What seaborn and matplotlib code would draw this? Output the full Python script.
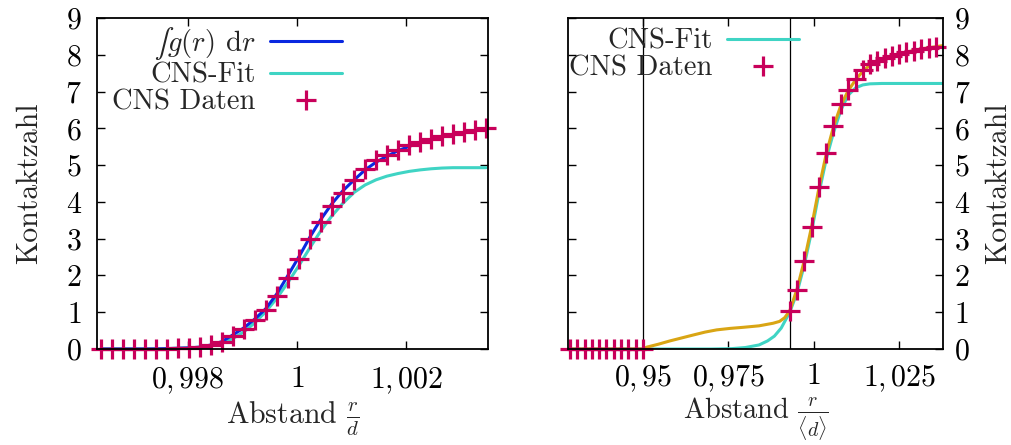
import numpy as np
import pandas as pd
import matplotlib
matplotlib.use("Agg")
import matplotlib.pyplot as plt
from matplotlib.lines import Line2D
import seaborn as sns

# ---------------- data: left panel ----------------
left_x = [0.99640, 0.99660, 0.99680, 0.99701, 0.99721, 0.99741, 0.99761, 0.99781,
          0.99802, 0.99822, 0.99842, 0.99862, 0.99882, 0.99903, 0.99923, 0.99943,
          0.99963, 0.99983, 1.00004, 1.00024, 1.00044, 1.00064, 1.00084, 1.00105,
          1.00125, 1.00145, 1.00165, 1.00185, 1.00206, 1.00226, 1.00246, 1.00266,
          1.00286, 1.00307, 1.00327, 1.00347]
left_data = [0.0, 0.0, 0.0, 0.0, 0.0, 0.0, 0.01, 0.02,
             0.03, 0.05, 0.10, 0.18, 0.36, 0.55, 0.78, 1.06,
             1.44, 1.92, 2.44, 2.98, 3.46, 3.89, 4.25, 4.59,
             4.90, 5.13, 5.27, 5.42, 5.54, 5.63, 5.72, 5.78,
             5.85, 5.90, 5.95, 6.00]
left_integral = [0.0, 0.0, 0.0, 0.0, 0.0, 0.0, 0.01, 0.02,
                 0.03, 0.05, 0.11, 0.20, 0.38, 0.58, 0.82, 1.10,
                 1.50, 1.99, 2.52, 3.05, 3.53, 3.95, 4.30, 4.60,
                 4.87, 5.08, 5.24, 5.39, 5.51, 5.61, 5.70, 5.77,
                 5.84, 5.89, 5.94, 5.99]
left_fit = [0.0, 0.0, 0.0, 0.0, 0.0, 0.005, 0.01, 0.02,
            0.03, 0.05, 0.09, 0.16, 0.28, 0.47, 0.72, 1.02,
            1.38, 1.80, 2.28, 2.76, 3.22, 3.62, 3.96, 4.26,
            4.46, 4.60, 4.70, 4.77, 4.83, 4.87, 4.90, 4.92,
            4.93, 4.93, 4.93, 4.93]
left_ticks = [0.998, 1.0, 1.002]
left_ticklabels = [r"$0{,}\,998$", r"$1$", r"$1{,}\,002$"]

# ---------------- data: right panel ----------------
right_data_x = [0.9286, 0.9307, 0.9329, 0.9350, 0.9372, 0.9393, 0.9415, 0.9436,
                0.9457, 0.9479, 0.9500,
                0.9930, 0.9951, 0.9973, 0.9994, 1.0016, 1.0037, 1.0058, 1.0080,
                1.0101, 1.0123, 1.0144, 1.0165, 1.0187, 1.0208, 1.0230, 1.0251,
                1.0272, 1.0294, 1.0315, 1.0337, 1.0358]
right_data_y = [0.0, 0.0, 0.0, 0.0, 0.0, 0.0, 0.0, 0.0,
                0.0, 0.0, 0.0,
                1.03, 1.61, 2.40, 3.32, 4.40, 5.32, 6.06, 6.66,
                7.03, 7.33, 7.58, 7.74, 7.84, 7.91, 7.97, 8.02,
                8.07, 8.11, 8.15, 8.18, 8.21]
gold_x = [0.9280, 0.9500, 0.9511, 0.9545, 0.9579, 0.9613, 0.9647, 0.9682,
          0.9716, 0.9755, 0.9794, 0.9840, 0.9881, 0.9900, 0.9915, 0.9930,
          0.9951, 0.9973, 0.9994, 1.0016, 1.0037, 1.0058, 1.0080, 1.0101,
          1.0123, 1.0144, 1.0165, 1.0187, 1.0208, 1.0230, 1.0251, 1.0272,
          1.0294, 1.0315, 1.0337, 1.0358, 1.0379]
gold_y = [0.0, 0.0, 0.05, 0.13, 0.22, 0.30, 0.38, 0.46,
          0.52, 0.56, 0.59, 0.63, 0.70, 0.75, 0.85, 1.04,
          1.62, 2.42, 3.33, 4.40, 5.31, 6.04, 6.63, 7.02,
          7.32, 7.55, 7.72, 7.83, 7.91, 7.97, 8.03, 8.07,
          8.12, 8.16, 8.19, 8.22, 8.25]
right_fit_x = [0.9280, 0.9700, 0.9760, 0.9800, 0.9840, 0.9865, 0.9885, 0.9905,
               0.9930, 0.9951, 0.9973, 0.9994, 1.0016, 1.0037, 1.0058, 1.0080,
               1.0101, 1.0123, 1.0144, 1.0165, 1.0200, 1.0379]
right_fit_y = [0.0, 0.0, 0.01, 0.04, 0.11, 0.22, 0.35, 0.57,
               1.00, 1.52, 2.30, 3.20, 4.26, 5.16, 5.88, 6.50,
               6.90, 7.10, 7.18, 7.21, 7.22, 7.22]
right_vlines = [0.95, 0.993]
right_ticks = [0.95, 0.975, 1.0, 1.025]
right_ticklabels = [r"$0{,}\,95$", r"$0{,}\,975$", r"$1$", r"$1{,}\,025$"]
y_ticks = [0, 1, 2, 3, 4, 5, 6, 7, 8, 9]

# ---------------- style ----------------
BLUE = "#0a28e0"
CYAN = "#3fd4c4"
RED = "#c8005a"
GOLD = "#d9a514"

sns.set_theme(style="ticks")
plt.rcParams["font.family"] = ["cmr10", "DejaVu Serif"]
plt.rcParams["mathtext.fontset"] = "cm"
plt.rcParams["axes.unicode_minus"] = False

FS = 21.5
LFS = 20.6

fig = plt.figure(figsize=(10.11, 4.45), dpi=100)
ax1 = fig.add_axes([97 / 1011, 1 - 349 / 445, (488 - 97) / 1011, (349 - 18) / 445])
ax2 = fig.add_axes([568 / 1011, 1 - 349 / 445, (943 - 568) / 1011, (349 - 18) / 445])

df_left = pd.DataFrame({"x": left_x, "data": left_data,
                        "integral": left_integral, "fit": left_fit})
df_gold = pd.DataFrame({"x": gold_x, "y": gold_y})
df_rfit = pd.DataFrame({"x": right_fit_x, "y": right_fit_y})
df_rdata = pd.DataFrame({"x": right_data_x, "y": right_data_y})

LW = 2.2
MS = 190
MEW = 2.3

# left panel
sns.lineplot(data=df_left, x="x", y="integral", ax=ax1, color=BLUE, lw=LW,
             sort=False, estimator=None, zorder=3)
sns.lineplot(data=df_left, x="x", y="fit", ax=ax1, color=CYAN, lw=LW,
             sort=False, estimator=None, zorder=2)
sns.scatterplot(data=df_left, x="x", y="data", ax=ax1, marker="+", color=RED,
                s=MS, linewidth=MEW, clip_on=False, zorder=4)

# right panel
for xv in right_vlines:
    ax2.axvline(xv, color="black", lw=0.9, zorder=1)
sns.lineplot(data=df_gold, x="x", y="y", ax=ax2, color=GOLD, lw=LW,
             sort=False, estimator=None, zorder=3)
sns.lineplot(data=df_rfit, x="x", y="y", ax=ax2, color=CYAN, lw=LW,
             sort=False, estimator=None, zorder=2)
sns.scatterplot(data=df_rdata, x="x", y="y", ax=ax2, marker="+", color=RED,
                s=MS, linewidth=MEW, clip_on=False, zorder=4)

ax1.set_xlim(0.99633, 1.003505)
ax2.set_xlim(0.92803, 1.03790)
for ax in (ax1, ax2):
    ax.set_ylim(0, 9)
    ax.set_yticks(y_ticks)
    ax.set_yticklabels([rf"${v}$" for v in y_ticks])
    ax.tick_params(direction="in", length=6, width=1.0, top=True, right=True,
                   labelsize=FS, colors="black")
    for sp in ax.spines.values():
        sp.set_linewidth(1.3)
        sp.set_color("black")
        sp.set_zorder(5)
    ax.set_facecolor("white")

ax1.set_xticks(left_ticks)
ax1.set_xticklabels(left_ticklabels)
ax2.set_xticks(right_ticks)
ax2.set_xticklabels(right_ticklabels)

ax1.tick_params(axis="y", pad=11)
ax1.tick_params(axis="x", pad=12)
ax2.tick_params(axis="x", pad=10)
ax2.tick_params(axis="y", labelleft=False, labelright=True, pad=8)

ax1.set_xlabel(r"Abstand $\frac{r}{d}$", fontsize=FS, va="center")
ax1.xaxis.set_label_coords(0.5, (349 - 419) / 331)
ax2.set_xlabel(r"Abstand $\frac{r}{\langle d\rangle}$", fontsize=FS - 1, va="center")
ax2.xaxis.set_label_coords(0.5, (349 - 419) / 331)
ax1.set_ylabel("Kontaktzahl", fontsize=FS, labelpad=16)
ax2.set_ylabel("Kontaktzahl", fontsize=FS, labelpad=10)
ax2.yaxis.set_label_position("right")

# legends (gnuplot style: text right-aligned, sample on the right)
h_int = Line2D([], [], color=BLUE, lw=LW)
h_fit = Line2D([], [], color=CYAN, lw=LW)
h_dat = Line2D([], [], color=RED, lw=0, marker="+", markersize=14, markeredgewidth=MEW)

leg_kw = dict(loc="upper right", frameon=False, markerfirst=False, fontsize=LFS,
              handlelength=2.5, handletextpad=0.5, labelspacing=0.02,
              borderaxespad=0.0, borderpad=0.2, numpoints=1)
ax1.legend([h_int, h_fit, h_dat],
           ["$\u222b g(r)$ d$r$", "CNS-Fit", "CNS Daten"],
           bbox_to_anchor=(0.64, 0.997), **leg_kw)
ax2.legend([h_fit, h_dat], ["CNS-Fit", "CNS Daten"],
           bbox_to_anchor=(0.63, 0.986), **leg_kw)

fig.savefig("out.png", dpi=100, facecolor="white")
